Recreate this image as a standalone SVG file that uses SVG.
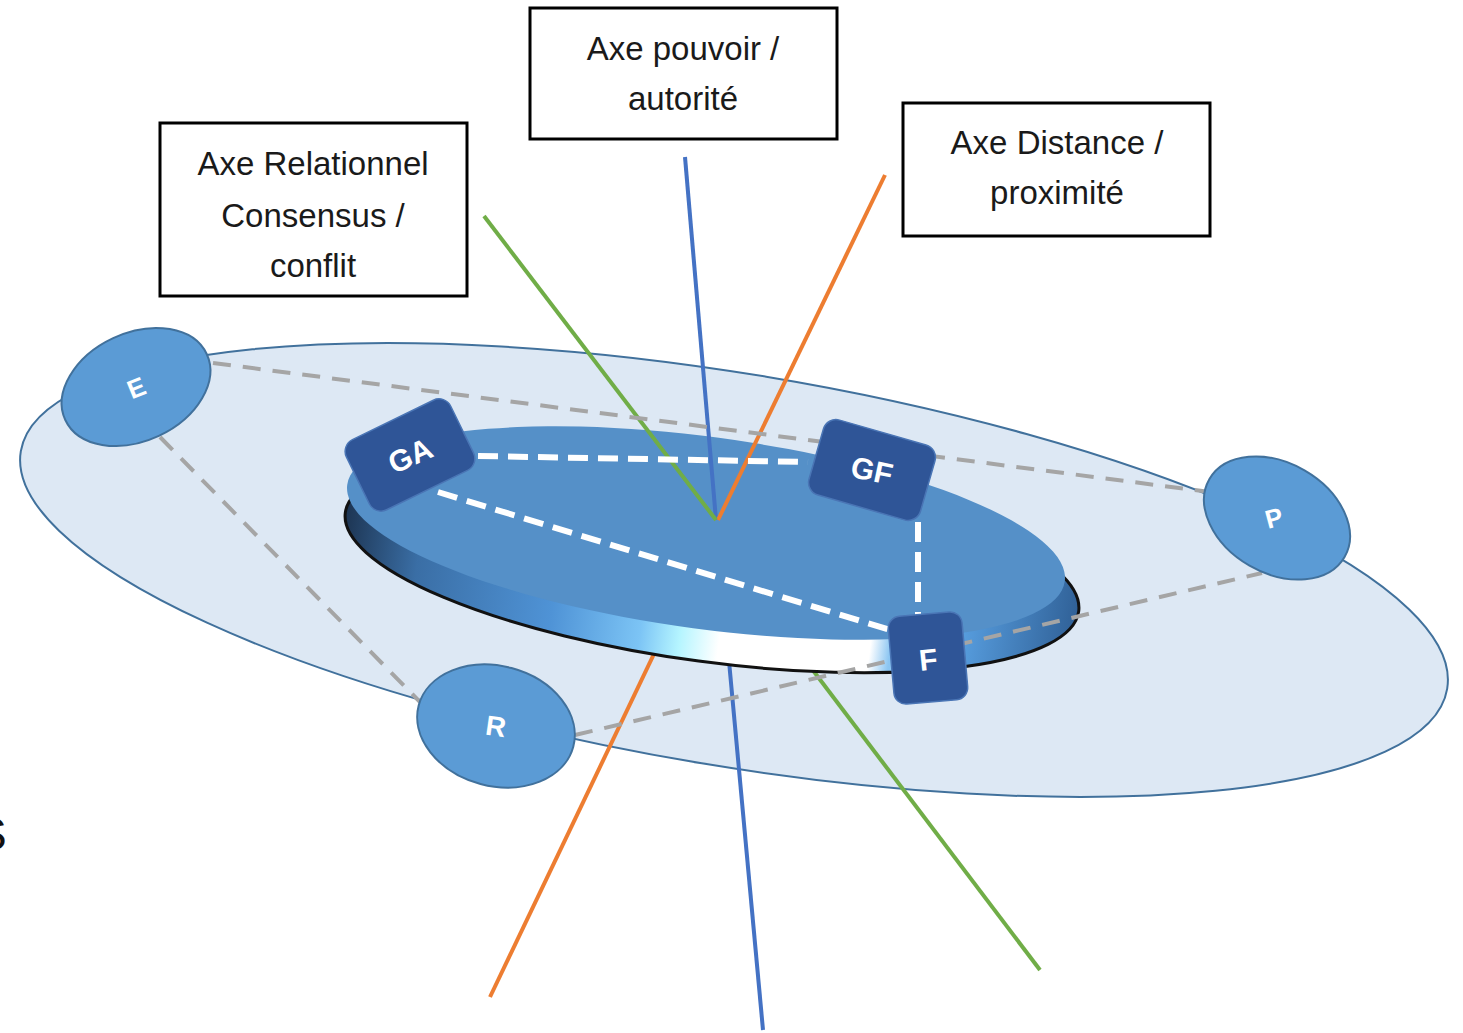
<svg xmlns="http://www.w3.org/2000/svg" width="1463" height="1033" viewBox="0 0 1463 1033">
<defs>
<style>
.box{fill:#ffffff;stroke:#000000;stroke-width:3}
.btxt{font-family:"Liberation Sans",Arial,sans-serif;font-size:33px;fill:#1a1a1a;text-anchor:middle}
.oval{fill:#5b9bd5;stroke:#41719c;stroke-width:2}
.sq{fill:#2f5597;stroke:#4a75b5;stroke-width:1.5}
.ntxt{font-family:"Liberation Sans",Arial,sans-serif;font-weight:bold;fill:#ffffff;text-anchor:middle}
.gray{stroke:#a5a5a5;stroke-width:4;stroke-dasharray:18 12;fill:none}
.white{stroke:#ffffff;stroke-width:6;stroke-dasharray:20 10;fill:none}
.ax{stroke-width:4;fill:none;stroke-linecap:butt}
</style>
<linearGradient id="sideGrad" gradientUnits="userSpaceOnUse" x1="340" y1="0" x2="1085" y2="0">
<stop offset="0" stop-color="#1c3350"/>
<stop offset="0.107" stop-color="#3a6ea5"/>
<stop offset="0.295" stop-color="#4f93d6"/>
<stop offset="0.416" stop-color="#7cc4f5"/>
<stop offset="0.47" stop-color="#b5f5ff"/>
<stop offset="0.523" stop-color="#ffffff"/>
<stop offset="0.725" stop-color="#ffffff"/>
<stop offset="0.752" stop-color="#8cc6f2"/>
<stop offset="0.832" stop-color="#5aa2e4"/>
<stop offset="1" stop-color="#2f5f95"/>
</linearGradient>
</defs>
<rect width="1463" height="1033" fill="#ffffff"/>
<text x="-24" y="850" font-family="Liberation Sans,Arial,sans-serif" font-size="46" fill="#111">S</text>
<g id="plane">
<ellipse cx="734" cy="570" rx="723" ry="196" transform="rotate(9.46 734 570)" fill="#dde8f4" stroke="#41719c" stroke-width="2"/>
</g>
<g id="axes-lower">
<line class="ax" x1="716" y1="520" x2="763" y2="1030" stroke="#4472c4"/>
<line class="ax" x1="718" y1="520" x2="490" y2="997" stroke="#ed7d31"/>
<line class="ax" x1="790" y1="640" x2="1040" y2="970" stroke="#70ad47"/>
</g>
<g id="disc">
<ellipse cx="712" cy="562" rx="370" ry="100" transform="rotate(7.67 712 562)" fill="url(#sideGrad)" stroke="#111111" stroke-width="3"/>
<ellipse cx="706" cy="533" rx="362" ry="96" transform="rotate(7.67 706 533)" fill="#5590c8"/>
</g>
<g id="axes-upper">
<line class="ax" x1="685" y1="157" x2="716" y2="520" stroke="#4472c4"/>
<line class="ax" x1="885" y1="175" x2="718" y2="520" stroke="#ed7d31"/>
<line class="ax" x1="484" y1="216" x2="716" y2="520" stroke="#70ad47"/>
</g>
<g id="connectors">
<line class="gray" x1="213" y1="363" x2="1210" y2="492"/>
<line class="gray" x1="160" y1="437" x2="420" y2="702"/>
<line class="gray" x1="575" y1="735" x2="1262" y2="573"/>
<line class="white" x1="478" y1="456" x2="808" y2="462"/>
<line class="white" x1="438" y1="492" x2="890" y2="630"/>
<line class="white" x1="918" y1="522" x2="918" y2="615"/>
</g>
<g id="node-E">
<ellipse class="oval" cx="136" cy="387" rx="78" ry="54" transform="rotate(-25 136 387)"/>
<text class="ntxt" x="136" y="397" font-size="26" transform="rotate(-22 136 387)">E</text>
</g>
<g id="node-P">
<ellipse class="oval" cx="1277" cy="518" rx="78" ry="55" transform="rotate(30 1277 518)"/>
<text class="ntxt" x="1274" y="527" font-size="26" transform="rotate(-15 1274 518)">P</text>
</g>
<g id="node-R">
<ellipse class="oval" cx="496" cy="726" rx="80" ry="60" transform="rotate(15 496 726)"/>
<text class="ntxt" x="496" y="736" font-size="28" transform="rotate(8 496 726)">R</text>
</g>
<g id="node-GA">
<rect class="sq" x="352" y="416" width="116" height="78" rx="13" transform="rotate(-26 410 455)"/>
<text class="ntxt" x="410" y="466" font-size="30" transform="rotate(-24 410 455)">GA</text>
</g>
<g id="node-GF">
<rect class="sq" x="814" y="431" width="116" height="78" rx="13" transform="rotate(16 872 470)"/>
<text class="ntxt" x="872" y="481" font-size="30" transform="rotate(12 872 470)">GF</text>
</g>
<g id="node-F">
<rect class="sq" x="891" y="614" width="74" height="88" rx="12" transform="rotate(-5 928 658)"/>
<text class="ntxt" x="928" y="670" font-size="30" transform="rotate(-6 928 658)">F</text>
</g>
<g id="label-relationnel">
<rect class="box" x="160" y="123" width="307" height="173"/>
<text class="btxt" x="313" y="175">Axe Relationnel</text>
<text class="btxt" x="313" y="227">Consensus /</text>
<text class="btxt" x="313" y="277">conflit</text>
</g>
<g id="label-pouvoir">
<rect class="box" x="530" y="8" width="307" height="131"/>
<text class="btxt" x="683" y="60">Axe pouvoir /</text>
<text class="btxt" x="683" y="110">autorité</text>
</g>
<g id="label-distance">
<rect class="box" x="903" y="103" width="307" height="133"/>
<text class="btxt" x="1057" y="154">Axe Distance /</text>
<text class="btxt" x="1057" y="204">proximité</text>
</g>
</svg>
